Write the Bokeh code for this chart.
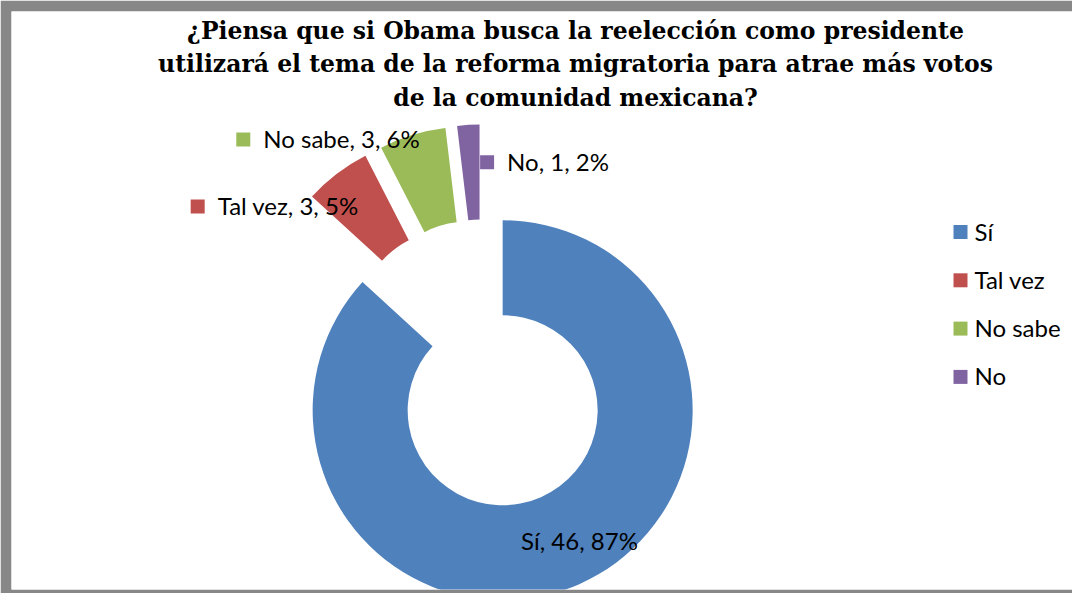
import math
from bokeh.plotting import figure
from bokeh.models import Range1d, ColumnDataSource
from bokeh.core.properties import value
from bokeh.embed import file_html
from bokeh.resources import INLINE

# ---------------- data ----------------
title_lines = [
    "¿Piensa que si Obama busca la reelección como presidente",
    "utilizará el tema de la reforma migratoria para atrae más votos",
    "de la comunidad mexicana?",
]
categories = ["Sí", "Tal vez", "No sabe", "No"]
counts = [46, 3, 3, 1]
percents = [87, 5, 6, 2]
colors = ["#4F81BD", "#C0504D", "#9BBB59", "#8064A2"]

# ---------------- layout (page pixels) ----------------
W, H = 1072, 593
PAGE_H = 609
TXT_DY = 9  # compensation for rendered text baseline


def Y(py):
    return PAGE_H - py


p = figure(width=W, height=H, output_backend="svg", toolbar_location=None,
           x_range=Range1d(19, 1080), y_range=Range1d(Y(597), Y(19)),
           min_border_left=11, min_border_top=11, min_border_right=0,
           min_border_bottom=4, x_axis_location=None, y_axis_location=None)
p.grid.visible = False
p.outline_line_color = None
p.border_fill_color = "#878787"
p.background_fill_color = "white"

# donut geometry
cx, cy = 490, Y(372)
explode = 50
R_out, R_in = 190, 95
total = sum(counts)

xs, ys, a_start, a_end, mids = [], [], [], [], []
cum = 0
for c in counts:
    a0 = math.pi / 2 - 2 * math.pi * cum / total
    cum += c
    a1 = math.pi / 2 - 2 * math.pi * cum / total
    mid = (a0 + a1) / 2
    xs.append(cx + explode * math.cos(mid))
    ys.append(cy + explode * math.sin(mid))
    a_start.append(a0)
    a_end.append(a1)
    mids.append(mid)

src = ColumnDataSource(dict(x=xs, y=ys, start=a_start, end=a_end, color=colors))
p.annular_wedge(x="x", y="y", inner_radius=R_in, outer_radius=R_out,
                start_angle="start", end_angle="end", direction="clock",
                fill_color="color", line_color=None, source=src)

# data labels (key square + text), placed relative to segment centre
label_offsets = [(-66, 9), (-175, 3), (-190, -33), (9, -2)]  # page px (right, down)
r_mid = (R_in + R_out) / 2
lab_x, lab_y, key_x, key_y, lab_text = [], [], [], [], []
for i, cat in enumerate(categories):
    segx = xs[i] + r_mid * math.cos(mids[i])
    segy = ys[i] + r_mid * math.sin(mids[i])
    x0 = segx + label_offsets[i][0]
    base = segy - label_offsets[i][1]
    key_x.append(x0 + 7)
    key_y.append(base + 8)
    lab_x.append(x0 + 27)
    lab_y.append(base + TXT_DY)
    lab_text.append(f"{cat}, {counts[i]}, {percents[i]}%")

lsrc = ColumnDataSource(dict(kx=key_x, ky=key_y, x=lab_x, y=lab_y, text=lab_text, color=colors))
p.rect(x="kx", y="ky", width=14, height=14, fill_color="color", line_color=None, source=lsrc)
p.text(x="x", y="y", text="text", source=lsrc, text_font=value("Lato"),
       text_font_size="24px", text_color="#000000", text_baseline="alphabetic",
       text_align="left")

# legend
leg_y = [Y(239.5 + 48.3 * i) for i in range(len(categories))]
gsrc = ColumnDataSource(dict(x=[968] * len(categories), tx=[982] * len(categories),
                             y=leg_y, ty=[v - 8 + TXT_DY for v in leg_y],
                             text=categories, color=colors))
p.rect(x="x", y="y", width=14, height=14, fill_color="color", line_color=None, source=gsrc)
p.text(x="tx", y="ty", text="text", source=gsrc, text_font=value("Lato"),
       text_font_size="24px", text_color="#000000", text_baseline="alphabetic",
       text_align="left")

# title
tsrc = ColumnDataSource(dict(x=[583] * 3,
                             y=[Y(47) + TXT_DY, Y(80) + TXT_DY, Y(114) + TXT_DY],
                             text=title_lines))
p.text(x="x", y="y", text="text", source=tsrc, text_font=value("DejaVu Serif"),
       text_font_style="bold", text_font_size="23.5px", text_color="#000000",
       text_baseline="alphabetic", text_align="center")

open("out.html", "w").write(file_html(p, INLINE))
